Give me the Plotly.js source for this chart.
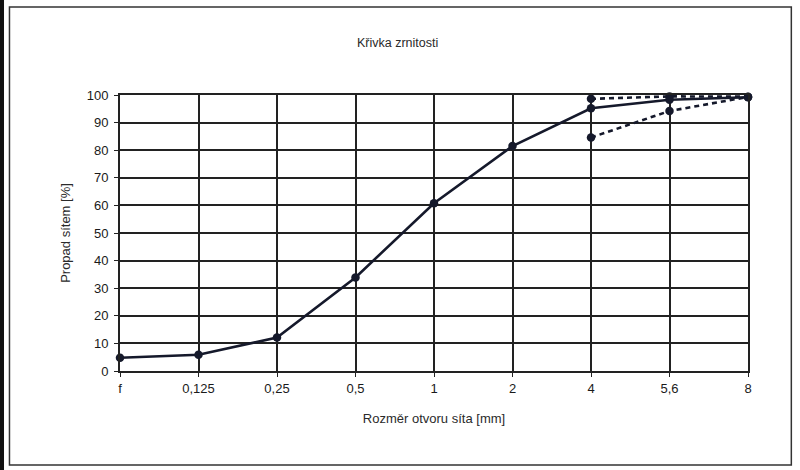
<!DOCTYPE html>
<html>
<head>
<meta charset="utf-8">
<script src="https://cdn.plot.ly/plotly-3.0.1.min.js"></script>
<style>html,body{margin:0;padding:0;background:#fff;}#chart{width:800px;height:470px;}</style>
</head>
<body>
<div id="chart"></div>
<script>
const sieves = ["f", "0,125", "0,25", "0,5", "1", "2", "4", "5,6", "8"];
const passing = [4.8, 5.9, 12.1, 33.9, 60.8, 81.5, 95.2, 98.3, 99.2];
const limitSieves = ["4", "5,6", "8"];
const upperLimit = [98.6, 99.5, 99.4];
const lowerLimit = [84.6, 94.2, 99.3];
const yTicks = [0, 10, 20, 30, 40, 50, 60, 70, 80, 90, 100];

const ink = "#15192b";
const markerStyle = {symbol: "circle", size: 8.5, color: ink};

const traces = [
  {x: limitSieves, y: upperLimit, type: "scatter", mode: "lines+markers",
   line: {color: ink, width: 2.6, dash: "5px,4px"}, marker: markerStyle, cliponaxis: false},
  {x: limitSieves, y: lowerLimit, type: "scatter", mode: "lines+markers",
   line: {color: ink, width: 2.6, dash: "5px,4px"}, marker: markerStyle, cliponaxis: false},
  {x: sieves, y: passing, type: "scatter", mode: "lines+markers",
   line: {color: ink, width: 2.6}, marker: markerStyle, cliponaxis: false}
];

const layout = {
  width: 800, height: 470,
  margin: {l: 120, r: 52, t: 95, b: 99},
  paper_bgcolor: "#fff", plot_bgcolor: "#fff",
  showlegend: false,
  font: {family: "Liberation Sans, Arial, sans-serif", size: 13, color: "#1a1a1a"},
  title: {text: "Křivka zrnitosti", x: 0.497, xanchor: "center", y: 0.91, yanchor: "middle",
          font: {size: 12.5, color: "#2a2a2a"}},
  xaxis: {
    type: "category", categoryarray: sieves, categoryorder: "array",
    range: [0, 8], showgrid: true, gridcolor: "#222", gridwidth: 2,
    showline: true, linecolor: "#222", linewidth: 2, mirror: true,
    ticks: "outside", ticklen: 4, tickcolor: "#222", zeroline: false,
    tickfont: {size: 13, color: "#1a1a1a"},
    title: {text: "Rozměr otvoru síta [mm]", standoff: 19, font: {size: 13, color: "#2a2a2a"}}
  },
  yaxis: {
    range: [0, 100], tickvals: yTicks, showgrid: true, gridcolor: "#222", gridwidth: 2,
    showline: true, linecolor: "#222", linewidth: 2, mirror: true,
    ticks: "outside", ticklen: 4, tickcolor: "#222", zeroline: false,
    ticklabelstandoff: 3,
    tickfont: {size: 13, color: "#1a1a1a"},
    title: {text: "Propad sítem [%]", standoff: 13, font: {size: 13, color: "#2a2a2a"}}
  },
  shapes: [
    {type: "rect", xref: "paper", yref: "paper", x0: -0.176, x1: 1.069, y0: -0.341, y1: 1.319,
     line: {color: "#333", width: 1.5}, fillcolor: "rgba(0,0,0,0)", layer: "below"},
    {type: "rect", xref: "paper", yref: "paper", x0: -0.1911, x1: -0.1847, y0: -0.4, y1: 1.4,
     line: {width: 0}, fillcolor: "#111", layer: "below"}
  ]
};

Plotly.newPlot("chart", traces, layout, {displayModeBar: false, staticPlot: true});
</script>
</body>
</html>
